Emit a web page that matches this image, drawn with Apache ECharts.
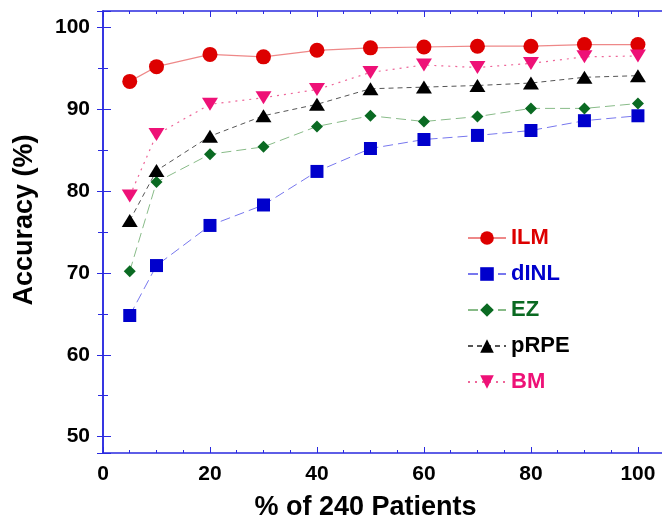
<!DOCTYPE html>
<html>
<head>
<meta charset="utf-8">
<script src="https://cdn.jsdelivr.net/npm/echarts@6/dist/echarts.min.js"></script>
<style>
  html, body { margin: 0; padding: 0; background: #fff; }
  #chart { width: 662px; height: 525px; }
</style>
</head>
<body>
<div id="chart"></div>
<script>
// % of patients used for training
const xValues = [5, 10, 20, 30, 40, 50, 60, 70, 80, 90, 100]

// accuracy (%) per method
const ilm = [93.4, 95.2, 96.7, 96.4, 97.2, 97.5, 97.6, 97.7, 97.7, 97.9, 97.9]
const dinl = [64.8, 70.9, 75.8, 78.3, 82.4, 85.2, 86.3, 86.8, 87.4, 88.6, 89.2]
const ez = [70.2, 81.1, 84.5, 85.4, 87.9, 89.2, 88.5, 89.1, 90.1, 90.1, 90.7]
const prpe = [76.4, 82.5, 86.7, 89.2, 90.6, 92.5, 92.7, 92.9, 93.2, 93.9, 94.1]
const bm = [79.4, 86.9, 90.6, 91.4, 92.4, 94.5, 95.4, 95.1, 95.6, 96.4, 96.5]

const FONT = "'Liberation Sans', Arial, sans-serif"
const AXIS_BLUE = '#2a2ae0'

const pairs = (ys) => xValues.map((x, i) => [x, ys[i]])

const chart = echarts.init(document.getElementById('chart'))

// spine without labels (top / right)
const bareAxis = {
  axisLine: { show: true, lineStyle: { color: AXIS_BLUE, width: 1.5 } },
  axisTick: { show: true, inside: true, length: 6, lineStyle: { color: AXIS_BLUE } },
  axisLabel: { show: false },
  splitLine: { show: false }
}

chart.setOption({
  animation: false,
  textStyle: { fontFamily: FONT },
  grid: { left: 103, top: 11, right: 0, bottom: 72, outerBoundsMode: 'none', containLabel: false },
  legend: {
    orient: 'vertical',
    left: 462,
    top: 222,
    itemWidth: 38,
    itemHeight: 17,
    itemGap: 14,
    textStyle: { fontSize: 22, fontWeight: 'bold', fontFamily: FONT },
    data: [
      { name: 'ILM', textStyle: { color: '#dd0000' } },
      { name: 'dINL', textStyle: { color: '#0000cc' } },
      { name: 'EZ', textStyle: { color: '#0a6a22' } },
      { name: 'pRPE', textStyle: { color: '#000000' } },
      { name: 'BM', textStyle: { color: '#ee1177' } }
    ]
  },
  xAxis: [{
    type: 'value',
    position: 'bottom',
    min: 0,
    max: 104.5,
    interval: 20,
    name: '% of 240 Patients',
    nameLocation: 'middle',
    nameGap: 41,
    nameTextStyle: { fontSize: 27, fontWeight: 'bold', color: '#000', padding: [0, 34, 0, 0] },
    axisLine: { show: true, lineStyle: { color: AXIS_BLUE, width: 1.5 } },
    axisTick: { show: true, inside: true, length: 6, lineStyle: { color: AXIS_BLUE } },
    minorTick: { show: true, splitNumber: 4, length: 3, lineStyle: { color: AXIS_BLUE } },
    axisLabel: { fontSize: 21, fontWeight: 'bold', color: '#000', margin: 11, showMaxLabel: false },
    splitLine: { show: false }
  }, Object.assign({}, bareAxis, {
    type: 'value',
    position: 'top',
    min: 0,
    max: 104.5,
    interval: 20,
    minorTick: { show: true, splitNumber: 4, length: 3, lineStyle: { color: AXIS_BLUE } }
  })],
  yAxis: [{
    type: 'value',
    position: 'left',
    min: 48,
    max: 102,
    splitNumber: 5,
    name: 'Accuracy (%)',
    nameLocation: 'middle',
    nameGap: 65,
    nameTextStyle: { fontSize: 27, fontWeight: 'bold', color: '#000', padding: [0, 0, 0, 24] },
    axisLine: { show: true, lineStyle: { color: AXIS_BLUE, width: 1.5 } },
    axisTick: { show: true, inside: true, length: 8, lineStyle: { color: AXIS_BLUE } },
    minorTick: { show: true, splitNumber: 2, length: 5, lineStyle: { color: AXIS_BLUE } },
    axisLabel: { fontSize: 21, fontWeight: 'bold', color: '#000', margin: 13, showMinLabel: false, showMaxLabel: false },
    splitLine: { show: false }
  }, Object.assign({}, bareAxis, {
    type: 'value',
    position: 'right',
    min: 48,
    max: 102,
    splitNumber: 5,
    minorTick: { show: true, splitNumber: 2, length: 5, lineStyle: { color: AXIS_BLUE } }
  })],
  series: [{
    name: 'ILM',
    type: 'line',
    data: pairs(ilm),
    symbol: 'circle',
    symbolSize: 15,
    itemStyle: { color: '#dd0000' },
    lineStyle: { color: '#ee8888', width: 1.2 }
  }, {
    name: 'dINL',
    type: 'line',
    data: pairs(dinl),
    symbol: 'rect',
    symbolSize: 13,
    itemStyle: { color: '#0000cc' },
    lineStyle: { color: '#7777ee', width: 1, type: [10, 5] }
  }, {
    name: 'EZ',
    type: 'line',
    data: pairs(ez),
    symbol: 'diamond',
    symbolSize: 12,
    itemStyle: { color: '#0a6a22' },
    lineStyle: { color: '#88bb88', width: 1, type: [10, 5] }
  }, {
    name: 'pRPE',
    type: 'line',
    data: pairs(prpe),
    symbol: 'triangle',
    symbolSize: [16, 13],
    itemStyle: { color: '#000000' },
    lineStyle: { color: '#555555', width: 1, type: [5, 4] }
  }, {
    name: 'BM',
    type: 'line',
    data: pairs(bm),
    symbol: 'triangle',
    symbolRotate: 180,
    symbolSize: [16, 13],
    itemStyle: { color: '#ee1177' },
    lineStyle: { color: '#ee6699', width: 1.2, type: [2, 5] }
  }]
})
</script>
</body>
</html>
